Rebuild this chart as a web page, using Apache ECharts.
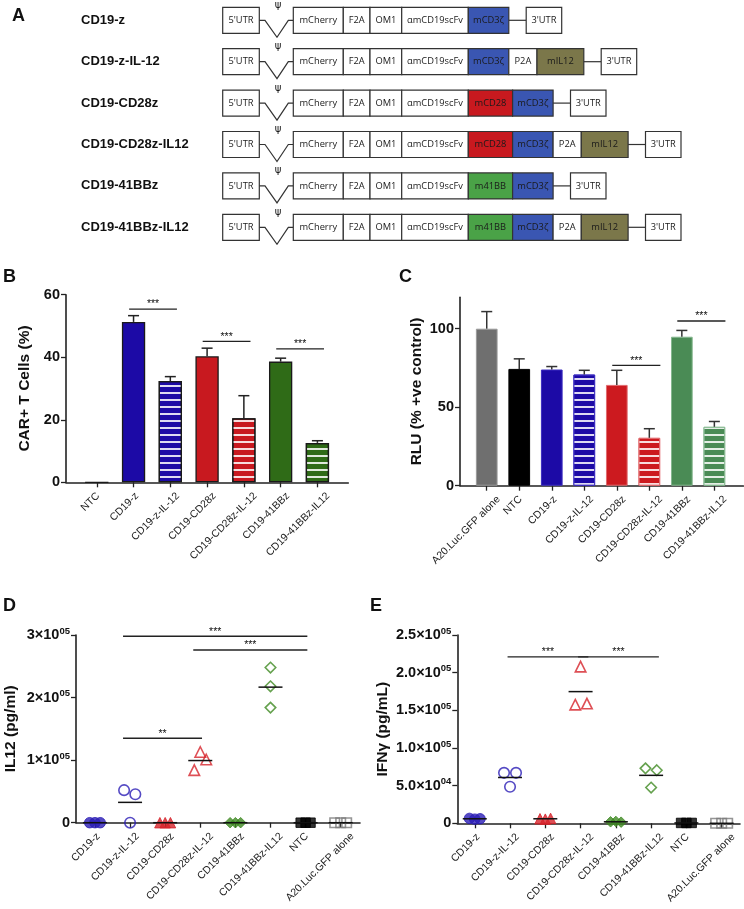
<!DOCTYPE html>
<html>
<head>
<meta charset="UTF-8">
<script src="https://cdn.jsdelivr.net/npm/echarts@6/dist/echarts.min.js"></script>
<style>
  html, body { margin: 0; padding: 0; background: #fff; }
  #chart { width: 744px; height: 909px; }
</style>
</head>
<body>
<div id="chart"></div>
<script>
// ---- A: construct maps
const constructNames = ['CD19-z', 'CD19-z-IL-12', 'CD19-CD28z', 'CD19-CD28z-IL12', 'CD19-41BBz', 'CD19-41BBz-IL12'];
const commonParts = ['mCherry', 'F2A', 'OM1', 'αmCD19scFv'];
const constructParts = [
  ['mCD3ζ'],
  ['mCD3ζ', 'P2A', 'mIL12'],
  ['mCD28', 'mCD3ζ'],
  ['mCD28', 'mCD3ζ', 'P2A', 'mIL12'],
  ['m41BB', 'mCD3ζ'],
  ['m41BB', 'mCD3ζ', 'P2A', 'mIL12']
];

// ---- B: CAR+ T cells (%)
const bCats = ['NTC', 'CD19-z', 'CD19-z-IL-12', 'CD19-CD28z', 'CD19-CD28z-IL-12', 'CD19-41BBz', 'CD19-41BBz-IL12'];
const bMean = [0, 51.3, 32.4, 40.3, 20.5, 38.6, 12.6];
const bErr = [0, 2.0, 1.4, 2.6, 7.2, 1.1, 0.7];
const bSig = [[1, 2, 55.4], [3, 4, 45.1], [5, 6, 42.7]];

// ---- C: RLU (% +ve control)
const cCats = ['A20.Luc.GFP alone', 'NTC', 'CD19-z', 'CD19-z-IL-12', 'CD19-CD28z', 'CD19-CD28z-IL-12', 'CD19-41BBz', 'CD19-41BBz-IL12'];
const cMean = [100, 74.4, 74.0, 70.8, 64.2, 30.5, 94.9, 37.5];
const cErr = [10.9, 6.4, 1.9, 2.7, 9.3, 5.8, 4.0, 3.4];
const cSig = [[4, 5, 76.7], [6, 7, 104.9]];

// ---- D: IL12 (pg/ml), 3 replicates
const dCats = ['CD19-z', 'CD19-z-IL-12', 'CD19-CD28z', 'CD19-CD28z-IL-12', 'CD19-41BBz', 'CD19-41BBz-IL12', 'NTC', 'A20.Luc.GFP alone'];
const dVals = [[0, 0, 0], [52000, 45500, 0], [0, 0, 0], [113000, 101000, 84000], [0, 0, 0], [248000, 218000, 184000], [0, 0, 0], [0, 0, 0]];
const dSpread = [[-0.15, 0, 0.15], [-0.17, 0.15, 0], [-0.15, 0, 0.15], [0, 0.17, -0.17], [-0.15, 0, 0.15], [0, 0, 0], [-0.14, 0, 0.14], [-0.17, 0, 0.17]];
const dSig = [[1, 6, 298000], [3, 6, 276000], [1, 3, 135000]];

// ---- E: IFNγ (pg/mL)
const eCats = dCats;
const eVals = [[6500, 5500, 6000], [67000, 67000, 48500], [6000, 5500, 6500], [208000, 157500, 159000], [2000, 2500, 1500], [73000, 70500, 47500], [500, 500, 500], [0, 0, 0]];
const eSpread = [[-0.15, 0, 0.15], [-0.17, 0.17, 0], [-0.15, 0, 0.15], [0, -0.15, 0.18], [-0.15, 0, 0.15], [-0.16, 0.16, 0], [-0.15, 0, 0.15], [-0.17, 0, 0.17]];
const eSig = [[1, 3, 221000], [3, 5, 221000]];

// styles
const FONT = '"Liberation Sans", Arial, sans-serif';
const BLUE = '#1c0aa6', RED = '#c8191f', GREEN = '#2f6b17';
const bColors = ['#000', BLUE, BLUE, RED, RED, GREEN, GREEN];
const bStriped = [false, false, true, false, true, false, true];
const cColors = ['#6f6f6f', '#000', BLUE, BLUE, '#cc1a1f', '#cc1a1f', '#4a8b55', '#4a8b55'];
const cBorders = ['#9a9a9a', '#000', '#3a2cc0', '#3a2cc0', '#e06a6e', '#e06a6e', '#84b78f', '#84b78f'];
const cStriped = [false, false, false, true, false, true, false, true];
const ptStyle = [
  ['circle', '#2a1db5', true], ['circle', '#2a1db5', false],
  ['triangle', '#d6232b', true], ['triangle', '#d6232b', false],
  ['diamond', '#3f8a22', true], ['diamond', '#3f8a22', false],
  ['rect', '#000', true], ['rect', '#7a7a7a', false]
];
const partWidth = {"5'UTR": 36.6, 'mCherry': 50, 'F2A': 26.7, 'OM1': 31.7, 'αmCD19scFv': 66.6,
  'mCD3ζ': 40.5, 'mCD28': 44.3, 'm41BB': 44.3, 'P2A': 28.2, 'mIL12': 46.8, "3'UTR": 35.5};
const partFill = {'mCD3ζ': '#3a56b2', 'mCD28': '#c8191f', 'm41BB': '#4aa247', 'mIL12': '#7b774a'};

const stripes = {symbol: 'rect', symbolSize: 1, dashArrayX: [10, 0], dashArrayY: [1.4, 4.3], rotation: 0, color: 'rgba(255,255,255,0.85)'};

// ---- panel A graphic
const graphics = [];
function txt(text, x, y, font, align, extra) {
  graphics.push({type: 'text', silent: true, style: Object.assign({text, x, y, font, fill: '#111', align: align || 'left', verticalAlign: 'middle'}, extra || {})});
}
constructNames.forEach((name, i) => {
  const top = 7.3 + i * 41.4, mid = top + 13;
  txt(name, 81, mid, 'bold 13px ' + FONT);
  let x = 222.7;
  const box = (label) => {
    const w = partWidth[label];
    graphics.push({type: 'rect', silent: true, shape: {x, y: top, width: w, height: 26},
      style: {fill: partFill[label] || '#fff', stroke: '#333', lineWidth: 1.2}});
    txt(label, x + w / 2, mid, '9.3px "Open Sans", sans-serif', 'center', {fill: '#1a1a1a'});
    x += w;
  };
  box("5'UTR");
  graphics.push({type: 'polyline', silent: true,
    shape: {points: [[x, mid], [x + 5.7, mid], [x + 17.7, mid + 17], [x + 29, mid], [x + 34, mid]]},
    style: {stroke: '#333', lineWidth: 1.2, fill: null}});
  txt('ψ', x + 18.7, top - 2, '10px "DejaVu Sans", sans-serif', 'center');
  x += 34;
  commonParts.concat(constructParts[i]).forEach(box);
  graphics.push({type: 'line', silent: true, shape: {x1: x, y1: mid, x2: x + 17.4, y2: mid}, style: {stroke: '#333', lineWidth: 1.2}});
  x += 17.4;
  box("3'UTR");
});
txt('A', 12, 16, 'bold 18px ' + FONT);
txt('B', 3, 277, 'bold 18px ' + FONT);
txt('C', 399, 277, 'bold 18px ' + FONT);
txt('D', 3, 606, 'bold 18px ' + FONT);
txt('E', 370, 606, 'bold 18px ' + FONT);

// ---- axes helpers
// Prism puts long slanted labels a little to the right of their tick
const measure = document.createElement('canvas').getContext('2d');
measure.font = '10.5px ' + FONT;
function labelShift(text) {
  return Math.max(0, 0.15 * measure.measureText(text).width - 2);
}
function catAxis(grid, cats, min, max, widthPx) {
  const ticks = cats.map((c, i) => i);
  const perCat = widthPx / (max - min);
  const labelVals = cats.map((c, i) => i + labelShift(c) / perCat);
  const nearest = v => {
    let best = 0;
    labelVals.forEach((lv, i) => { if (Math.abs(lv - v) < Math.abs(labelVals[best] - v)) best = i; });
    return cats[best];
  };
  return {
    gridIndex: grid, type: 'value', min, max, splitLine: {show: false},
    axisLine: {show: true, onZero: false, lineStyle: {color: '#222', width: 1.6}},
    axisTick: {show: true, customValues: ticks, length: 5, lineStyle: {color: '#222', width: 1.3}},
    axisLabel: {show: true, customValues: labelVals, rotate: 45, margin: 12, fontSize: 10.5, fontFamily: FONT, color: '#222',
      formatter: v => nearest(v)}
  };
}
function sci(v, digits) {
  if (v === 0) return '{m|0}';
  const ex = Math.floor(Math.log10(v) + 1e-9);
  const man = v / Math.pow(10, ex);
  return '{m|' + man.toFixed(digits) + '×10}{e|' + String(ex).padStart(2, '0') + '}';
}
function valAxis(grid, max, interval, name, nameGap, fmt, custom) {
  const ax = {
    gridIndex: grid, type: 'value', min: 0, max, interval, splitLine: {show: false},
    name, nameLocation: 'middle', nameGap, nameRotate: 90,
    nameTextStyle: {fontSize: 15.5, fontWeight: 'bold', fontFamily: FONT, color: '#111'},
    axisLine: {show: true, onZero: false, lineStyle: {color: '#222', width: 1.6}},
    axisTick: {show: true, length: 5, lineStyle: {color: '#222', width: 1.3}},
    axisLabel: {show: true, margin: 6, fontSize: 14.5, fontWeight: 'bold', fontFamily: FONT, color: '#111'}
  };
  if (custom) { ax.axisTick.customValues = custom; ax.axisLabel.customValues = custom; }
  if (fmt) {
    ax.axisLabel.formatter = fmt;
    ax.axisLabel.rich = {
      m: {fontSize: 14.5, fontWeight: 'bold', fontFamily: FONT, color: '#111', lineHeight: 18},
      e: {fontSize: 9.5, fontWeight: 'bold', fontFamily: FONT, color: '#111', lineHeight: 10, verticalAlign: 'top'}
    };
  }
  return ax;
}

// ---- series helpers
function barSeries(grid, means, colors, striped, borders, borderW) {
  return {
    type: 'bar', xAxisIndex: grid, yAxisIndex: grid, barWidth: grid === 0 ? 23.3 : 21.7, z: 2,
    data: means.map((v, i) => ({value: [i, v], itemStyle: {color: colors[i],
      borderColor: borders ? borders[i] : '#1a1a1a', borderWidth: borderW,
      decal: striped[i] ? stripes : null}}))
  };
}
function errSeries(grid, means, errs, color) {
  return {
    type: 'custom', xAxisIndex: grid, yAxisIndex: grid, z: 4,
    data: means.map((v, i) => [i, v, errs[i]]),
    renderItem: (params, api) => {
      const e = api.value(2);
      if (!e) return null;
      const p0 = api.coord([api.value(0), api.value(1)]);
      const p1 = api.coord([api.value(0), api.value(1) + e]);
      const st = {stroke: color, lineWidth: 1.5};
      return {type: 'group', children: [
        {type: 'line', shape: {x1: p0[0], y1: p0[1], x2: p1[0], y2: p1[1]}, style: st},
        {type: 'line', shape: {x1: p1[0] - 5.5, y1: p1[1], x2: p1[0] + 5.5, y2: p1[1]}, style: st}
      ]};
    }
  };
}
function sigSeries(grid, sigs, padL, padR, label) {
  return {
    type: 'custom', xAxisIndex: grid, yAxisIndex: grid, z: 5,
    data: sigs.map(s => [s[0], s[1], s[2]]),
    renderItem: (params, api) => {
      const a = api.coord([api.value(0) - padL, api.value(2)]);
      const b = api.coord([api.value(1) + padR, api.value(2)]);
      const star = sigs[params.dataIndex][3] || label;
      return {type: 'group', children: [
        {type: 'line', shape: {x1: a[0], y1: a[1], x2: b[0], y2: a[1]}, style: {stroke: '#222', lineWidth: 1.3}},
        {type: 'text', style: {text: star, x: (a[0] + b[0]) / 2, y: a[1] + 1, align: 'center', verticalAlign: 'bottom',
          font: '10.5px ' + FONT, fill: '#111'}}
      ]};
    }
  };
}
function dotSeries(grid, vals, spread) {
  return vals.map((vs, i) => {
    const st = ptStyle[i];
    return {
      type: 'scatter', xAxisIndex: grid, yAxisIndex: grid, symbol: st[0], symbolSize: st[0] === 'rect' ? 9.5 : 10.5, z: 3,
      data: vs.map((v, k) => [i + spread[i][k], v]),
      itemStyle: st[2] ? {color: st[1], borderColor: st[1], borderWidth: 1}
        : {color: 'rgba(255,255,255,0)', borderColor: st[1], borderWidth: 1.6}
    };
  });
}
function meanSeries(grid, vals) {
  return {
    type: 'custom', xAxisIndex: grid, yAxisIndex: grid, z: 4,
    data: vals.map((vs, i) => [i, vs.reduce((s, v) => s + v, 0) / vs.length]),
    renderItem: (params, api) => {
      const p = api.coord([api.value(0), api.value(1)]);
      return {type: 'line', shape: {x1: p[0] - 12, y1: p[1], x2: p[0] + 12, y2: p[1]}, style: {stroke: '#111', lineWidth: 1.5}};
    }
  };
}

const dFmt = v => sci(v, 0);
const eFmt = v => sci(v, 1);

const option = {
  animation: false,
  backgroundColor: '#fff',
  graphic: graphics,
  grid: [
    {left: 66, top: 294.7, width: 282.3, height: 187.6, outerBoundsMode: 'none'},
    {left: 460, top: 297.3, width: 283.3, height: 188.4, outerBoundsMode: 'none'},
    {left: 76, top: 635, width: 284, height: 187.7, outerBoundsMode: 'none'},
    {left: 457.3, top: 635, width: 282.7, height: 188.3, outerBoundsMode: 'none'}
  ],
  xAxis: [
    catAxis(0, bCats, -0.837, 6.84, 282.3),
    catAxis(1, cCats, -0.822, 7.89, 283.3),
    catAxis(2, dCats, -0.54, 7.55, 284),
    catAxis(3, eCats, -0.495, 7.52, 282.7)
  ],
  yAxis: [
    valAxis(0, 60, 20, 'CAR+ T Cells (%)', 33),
    valAxis(1, 120, 50, 'RLU (% +ve control)', 35, null, [0, 50, 100]),
    valAxis(2, 300000, 100000, 'IL12 (pg/ml)', 57, dFmt),
    valAxis(3, 250000, 50000, 'IFNγ (pg/mL)', 67, eFmt)
  ],
  series: [
    barSeries(0, bMean, bColors, bStriped, null, 1.3),
    errSeries(0, bMean, bErr, '#222'),
    sigSeries(0, bSig, 0.12, 0.18, '***'),
    barSeries(1, cMean, cColors, cStriped, cBorders, 1),
    errSeries(1, cMean, cErr, '#333'),
    sigSeries(1, cSig, 0.14, 0.34, '***'),
    ...dotSeries(2, dVals, dSpread),
    meanSeries(2, dVals),
    sigSeries(2, dSig.map((s, i) => i === 2 ? [s[0], s[1], s[2], '**'] : s), 0.2, 0.05, '***'),
    ...dotSeries(3, eVals, eSpread),
    meanSeries(3, eVals),
    sigSeries(3, eSig, 0.07, 0.22, '***')
  ]
};

const chart = echarts.init(document.getElementById('chart'));
chart.setOption(option);
</script>
</body>
</html>
